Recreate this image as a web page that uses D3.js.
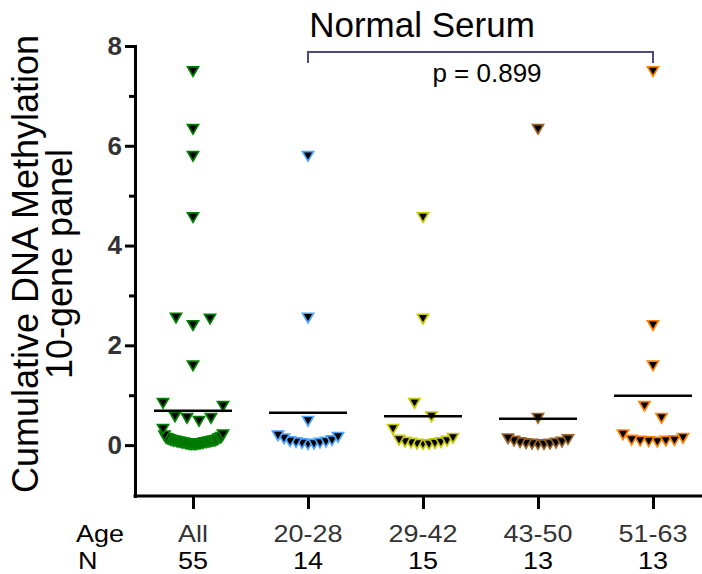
<!DOCTYPE html>
<html><head><meta charset="utf-8">
<script src="https://cdn.jsdelivr.net/npm/d3@7"></script>
<style>body{margin:0;background:#fff}svg{display:block}</style>
</head><body><svg id="chart" width="702" height="574"></svg>
<script>
// ---------------- data ----------------
const categories = ["All", "20-28", "29-42", "43-50", "51-63"];
const nLabels = ["55", "14", "15", "13", "13"];
const age2028 = [5.78, 2.54, 0.47, 0.18, 0.15, 0.12, 0.08, 0.06, 0.05, 0.04, 0.03, 0.02, 0.01, 0.0];
const age2942 = [4.55, 2.52, 0.83, 0.56, 0.31, 0.13, 0.09, 0.07, 0.05, 0.04, 0.03, 0.02, 0.01, 0.0, 0.0];
const age4350 = [6.32, 0.53, 0.12, 0.10, 0.07, 0.05, 0.04, 0.03, 0.02, 0.01, 0.01, 0.0, 0.0];
const age5163 = [7.48, 2.39, 1.58, 0.77, 0.53, 0.20, 0.13, 0.09, 0.08, 0.07, 0.07, 0.06, 0.05];
const ageAll = [].concat(age2028, age2942, age4350, age5163); // "All" = union of the age groups
const groupMeans = [0.69, 0.65, 0.58, 0.53, 0.99];
const yTicks = [0, 2, 4, 6, 8];
const yMinorTicks = [1, 3, 5, 7];
const pText = "p = 0.899";
const titleText = "Normal Serum";
const groupColors = ["#008000", "#4da3ff", "#c8c800", "#9a6428", "#ff8000"];
const groups = [ageAll, age2028, age2942, age4350, age5163];

// ---------------- layout ----------------
const svg = d3.select("#chart");
const FONT = "'Liberation Sans', Arial, Helvetica, sans-serif";
const y = d3.scaleLinear().domain([-1.02, 8]).range([496, 46]);
const x = d3.scalePoint().domain(categories).range([193, 653]);
const axisX = 135;

// y axis
const gy = svg.append("g").attr("transform", `translate(${axisX},0)`);
gy.call(d3.axisLeft(y).tickValues(yTicks).tickSize(10).tickSizeOuter(0).tickPadding(3));
gy.select(".domain").attr("stroke-width", 3).attr("stroke-linecap", "square");
gy.selectAll(".tick line").attr("stroke-width", 3);
gy.selectAll(".tick text").attr("font-family", FONT).attr("font-size", 26)
  .attr("font-weight", "bold").attr("fill", "#333");
const gyMinor = svg.append("g").attr("transform", `translate(${axisX},0)`);
gyMinor.call(d3.axisLeft(y).tickValues(yMinorTicks).tickSize(6).tickFormat(""));
gyMinor.select(".domain").remove();
gyMinor.selectAll(".tick line").attr("stroke-width", 3);

// x axis
const baseY = y.range()[0];
svg.append("line").attr("x1", axisX).attr("x2", 702).attr("y1", baseY).attr("y2", baseY)
  .attr("stroke", "#000").attr("stroke-width", 3).attr("stroke-linecap", "square");
const gx = svg.append("g").attr("transform", `translate(0,${baseY})`);
gx.call(d3.axisBottom(x).tickSize(13).tickFormat(""));
gx.select(".domain").remove();
gx.selectAll(".tick line").attr("stroke-width", 3);

// bottom labels (slightly widened glyphs, as in the reference)
const rowFont = 23.8, rowSx = 1.134, row1 = 542, row2 = 568.9;
function rowText(str, tx, ty, anchor, fill) {
  svg.append("text").attr("transform", `translate(${tx},${ty}) scale(${rowSx},1)`)
    .attr("text-anchor", anchor).text(str)
    .attr("font-family", FONT).attr("font-size", rowFont).attr("fill", fill);
}
rowText("Age", 76, row1, "start", "#000");
rowText("N", 78, row2, "start", "#000");
categories.forEach((c, i) => {
  rowText(c, x(c), row1, "middle", "#333");
  rowText(nLabels[i], x(c), row2, "middle", "#000");
});

// y title
const yt = svg.append("text").attr("transform", "translate(0,264) rotate(-90)")
  .attr("text-anchor", "middle").attr("font-family", FONT).attr("font-size", 36).attr("fill", "#000");
yt.append("tspan").attr("x", 0).attr("y", 38).text("Cumulative DNA Methylation");
yt.append("tspan").attr("x", 0).attr("y", 72).text("10-gene panel");

// title
svg.append("text").attr("x", 422).attr("y", 37).attr("text-anchor", "middle").text(titleText)
  .attr("font-family", FONT).attr("font-size", 35).attr("fill", "#000");

// bracket
const bx1 = x(categories[1]), bx2 = x(categories[4]);
svg.append("path").attr("d", `M${bx1},63V52H${bx2}V63`).attr("fill", "none")
  .attr("stroke", "#4c4c80").attr("stroke-width", 2);
svg.append("text").attr("x", 487).attr("y", 82).attr("text-anchor", "middle").text(pText)
  .attr("font-family", FONT).attr("font-size", 26).attr("fill", "#000");

// ---------------- points: Prism-like binned scatter ----------------
const binH = 19, maxW = 60, maxS = 17;
function layout(vals) {
  const pts = vals.map(v => ({v, py: y(v)})).sort((a, b) => a.v - b.v);
  const bins = [];
  pts.forEach(p => {
    const b = bins[bins.length - 1];
    if (b && (b[0].py - p.py) <= binH) b.push(p); else bins.push([p]);
  });
  bins.forEach(b => {
    const n = b.length;
    const s = n > 1 ? Math.min(maxS, maxW / (n - 1)) : 0;
    b.forEach((p, i) => {
      let slot;
      if (n % 2 === 1) { const k = Math.ceil(i / 2); slot = i === 0 ? 0 : (i % 2 === 1 ? k : -k); }
      else { const k = Math.floor(i / 2) + 0.5; slot = i % 2 === 0 ? k : -k; }
      p.dx = slot * s;
    });
  });
  return pts;
}
const outerTri = "M-7,-6L7,-6L0,6Z";
const sc = 0.58, cy = -1.98;
const innerTri = `M${-7*sc},${cy - sc*4.02}L${7*sc},${cy - sc*4.02}L0,${cy + sc*7.98}Z`;

groups.forEach((vals, gi) => {
  const pts = layout(vals);
  const g = svg.append("g");
  const m = g.selectAll("g").data(pts).join("g")
    .attr("transform", d => `translate(${x(categories[gi]) + d.dx},${d.py})`);
  m.append("path").attr("d", outerTri).attr("fill", groupColors[gi]);
  m.append("path").attr("d", innerTri).attr("fill", "#000");
  // mean line
  svg.append("line").attr("x1", x(categories[gi]) - 39).attr("x2", x(categories[gi]) + 39)
    .attr("y1", y(groupMeans[gi])).attr("y2", y(groupMeans[gi]))
    .attr("stroke", "#000").attr("stroke-width", 2.5);
});
</script>
</body></html>
